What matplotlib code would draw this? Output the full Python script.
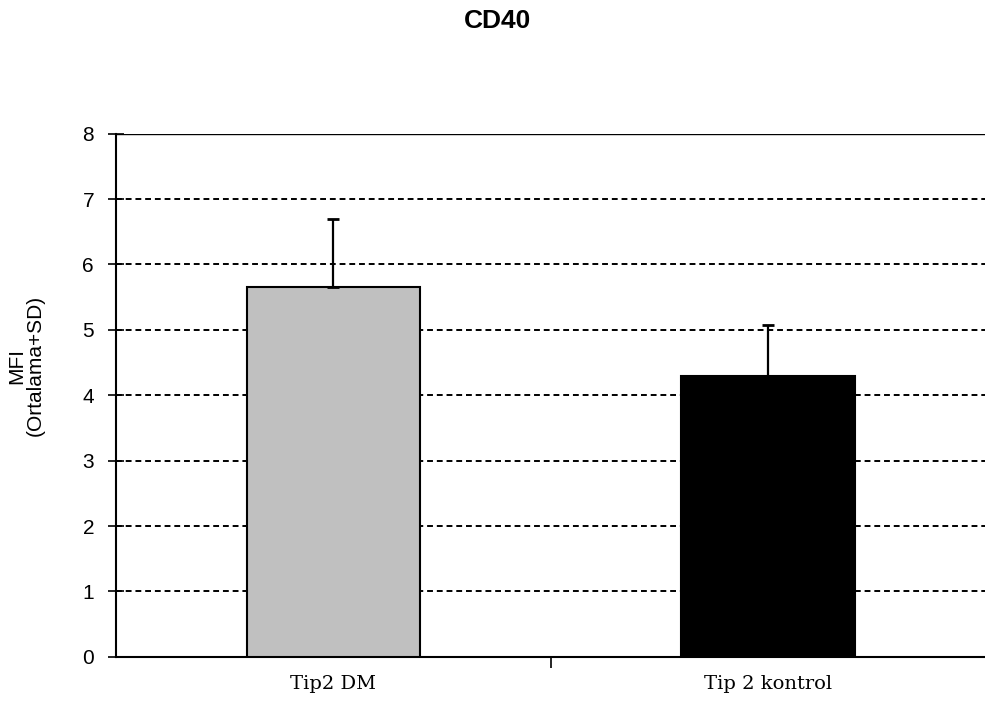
import numpy as np
import matplotlib.pyplot as plt

# group labels and values (mean + SD)
groups = ['Tip2 DM', 'Tip 2 kontrol']
means = [5.65, 4.30]
sds = [1.05, 0.78]
colors = ['#c0c0c0', '#000000']

fig = plt.figure(figsize=(9.85, 7.07), dpi=100)
ax = fig.add_axes([0.118, 0.071, 0.882, 0.740])

x = np.arange(len(groups))
ax.bar(x, means, width=0.40, color=colors, edgecolor='black', linewidth=1.5, zorder=3)
ax.errorbar(x, means, yerr=[np.zeros(len(sds)), sds], fmt='none', ecolor='black',
            elinewidth=1.6, capsize=4.5, capthick=2, zorder=4)

ax.set_xlim(-0.5, 1.5)
ax.set_ylim(0, 8)
ax.set_yticks(range(0, 9))
ax.set_yticklabels([str(v) for v in range(0, 9)], fontsize=15, family='Liberation Sans')

# dashed grid for 1..7, solid thin line at the top
for v in range(1, 8):
    ax.axhline(v, color='black', linestyle=(0, (3, 2)), linewidth=1.4, zorder=1)
ax.axhline(8, color='black', linewidth=1.0, zorder=1)

ax.set_xticks(x)
ax.set_xticklabels(groups, fontsize=14, family='DejaVu Serif')
ax.tick_params(axis='x', which='major', length=0, pad=13)
ax.set_xticks([0.5], minor=True)
ax.tick_params(axis='x', which='minor', length=8, width=1.2, direction='out')
ax.tick_params(axis='y', length=12, width=1.2, direction='inout', pad=10)

for s in ['top', 'right']:
    ax.spines[s].set_visible(False)
ax.spines['left'].set_linewidth(1.5)
ax.spines['bottom'].set_linewidth(1.5)

ax.set_ylabel('MFI\n(Ortalama+SD)', fontsize=15, family='Liberation Sans', linespacing=1.0)
ax.yaxis.set_label_coords(-0.082, 0.556)
fig.text(0.505, 0.971, 'CD40', ha='center', va='center', fontsize=19,
         fontweight='bold', family='Liberation Sans')

fig.savefig('out.png', dpi=100)
